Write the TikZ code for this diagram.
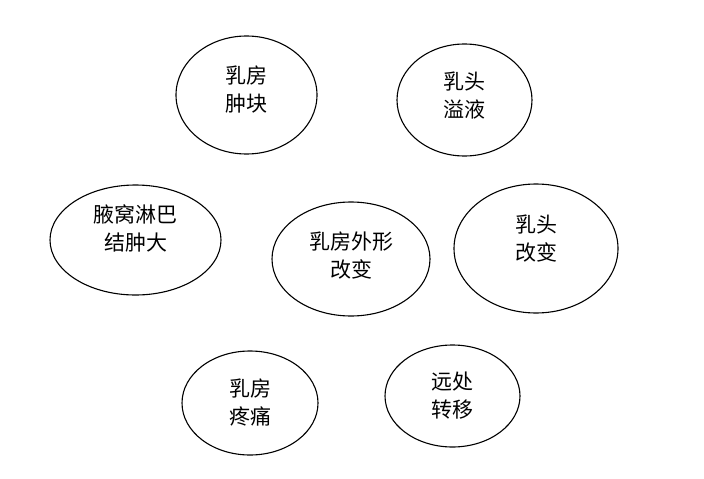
\documentclass[tikz,border=0pt]{standalone}
\usepackage{fontspec}
\setmainfont{Noto Sans CJK SC}
\usetikzlibrary{shapes.geometric}

\tikzset{
  sign/.style={ellipse, draw, line width=1.1pt, inner sep=0pt,
    align=center, font=\fontsize{21}{28}\selectfont}
}

\begin{document}
\begin{tikzpicture}[x=1pt, y=-1pt]
  \useasboundingbox (0,0) rectangle (704,479);

  % Symptoms
  \node[sign, minimum width=141pt, minimum height=118pt, text depth=13pt] (lump) at (246.5,95) {乳房\\肿块};
  \node[sign, minimum width=135pt, minimum height=112pt, text depth=11pt] (discharge) at (464.5,100) {乳头\\溢液};
  \node[sign, minimum width=171pt, minimum height=110pt, text depth=24pt] (lymph) at (135.5,240) {腋窝淋巴\\结肿大};
  \node[sign, minimum width=158pt, minimum height=114pt, text depth=8pt] (shape) at (351,259) {乳房外形\\改变};
  \node[sign, minimum width=164pt, minimum height=129pt, text depth=21pt] (nipple) at (536,248.5) {乳头\\改变};
  \node[sign, minimum width=136pt, minimum height=104pt] (pain) at (250,403) {乳房\\疼痛};
  \node[sign, minimum width=135pt, minimum height=102pt] (spread) at (452.5,396) {远处\\转移};
\end{tikzpicture}
\end{document}
